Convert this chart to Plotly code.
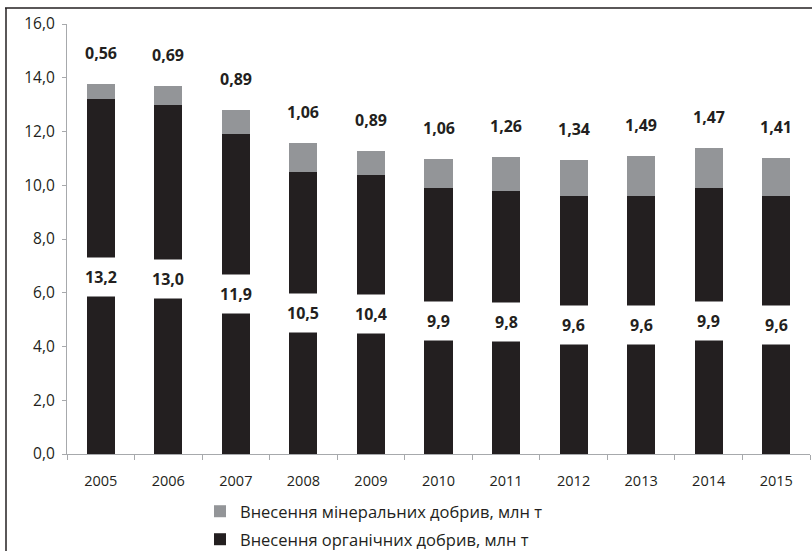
import plotly.graph_objects as go

years = ["2005", "2006", "2007", "2008", "2009", "2010", "2011", "2012", "2013", "2014", "2015"]
organic = [13.2, 13.0, 11.9, 10.5, 10.4, 9.9, 9.8, 9.6, 9.6, 9.9, 9.6]
mineral = [0.56, 0.69, 0.89, 1.06, 0.89, 1.06, 1.26, 1.34, 1.49, 1.47, 1.41]
name_min = "Внесення мінеральних добрив, млн т"
name_org = "Внесення органічних добрив, млн т"

DARK = "#231f20"
GRAY = "#939598"
AXIS = "#a7a9ac"
FONT = "Open Sans"

W, H = 812, 551
L, R, T, B = 67, 2, 24, 97
pw, ph = W - L - R, H - T - B


def px_x(p):
    return (p - L) / pw


def px_y(p):
    return (H - B - p) / ph


fig = go.Figure()
fig.add_trace(go.Bar(x=years, y=organic, name=name_org, marker=dict(color=DARK, line_width=0),
                     legend="legend2"))
fig.add_trace(go.Bar(x=years, y=mineral, name=name_min, marker=dict(color=GRAY, line_width=0),
                     legend="legend"))


def fmt(v, d):
    return f"{v:.{d}f}".replace(".", ",")


for i, (o, m) in enumerate(zip(organic, mineral)):
    fig.add_annotation(x=i, y=o / 2, text=f"<b>{fmt(o, 1)}</b>", showarrow=False,
                       bgcolor="white", borderpad=8,
                       font=dict(family=FONT, size=16, color=DARK))
    fig.add_annotation(x=i, y=o + m, text=f"<b>{fmt(m, 2)}</b>", showarrow=False,
                       yshift=31, font=dict(family=FONT, size=16, color=DARK))

# border lines (top and left)
fig.add_shape(type="line", xref="paper", yref="paper", x0=px_x(5), x1=px_x(W), y0=px_y(8), y1=px_y(8),
              line=dict(color=DARK, width=1.5))
fig.add_shape(type="line", xref="paper", yref="paper", x0=px_x(6), x1=px_x(6), y0=px_y(8), y1=px_y(H),
              line=dict(color=DARK, width=1.5))

fig.update_layout(
    width=W, height=H,
    margin=dict(l=L, r=R, t=T, b=B, autoexpand=False),
    barmode="stack", bargap=0.585,
    plot_bgcolor="white", paper_bgcolor="white",
    separators=", ",
    font=dict(family=FONT, size=15, color=DARK),
    showlegend=True,
    legend=dict(x=px_x(200), y=px_y(511.5), xanchor="left", yanchor="middle",
                font=dict(family=FONT, size=16.5, color=DARK), bgcolor="rgba(0,0,0,0)"),
    legend2=dict(x=px_x(200), y=px_y(539.5), xanchor="left", yanchor="middle",
                 font=dict(family=FONT, size=16.5, color=DARK), bgcolor="rgba(0,0,0,0)"),
    xaxis=dict(type="category", range=[-0.5, len(years) - 0.5], showline=True, linecolor=AXIS,
               linewidth=1.2, ticks="outside", tickson="boundaries", ticklen=5, tickcolor=AXIS,
               tickfont=dict(family=FONT, size=14.5, color=DARK), ticklabelstandoff=13,
               showgrid=False, zeroline=False),
    yaxis=dict(range=[0, 16], dtick=2, tickformat=".1f", showline=True, linecolor=AXIS,
               linewidth=1.2, ticks="outside", ticklen=4, tickcolor=AXIS,
               tickfont=dict(family=FONT, size=15.5, color=DARK), ticklabelstandoff=4,
               showgrid=False, zeroline=False),
)

fig.write_html("out.html", config={"displayModeBar": False},
               post_script="document.body.style.margin='0';")
